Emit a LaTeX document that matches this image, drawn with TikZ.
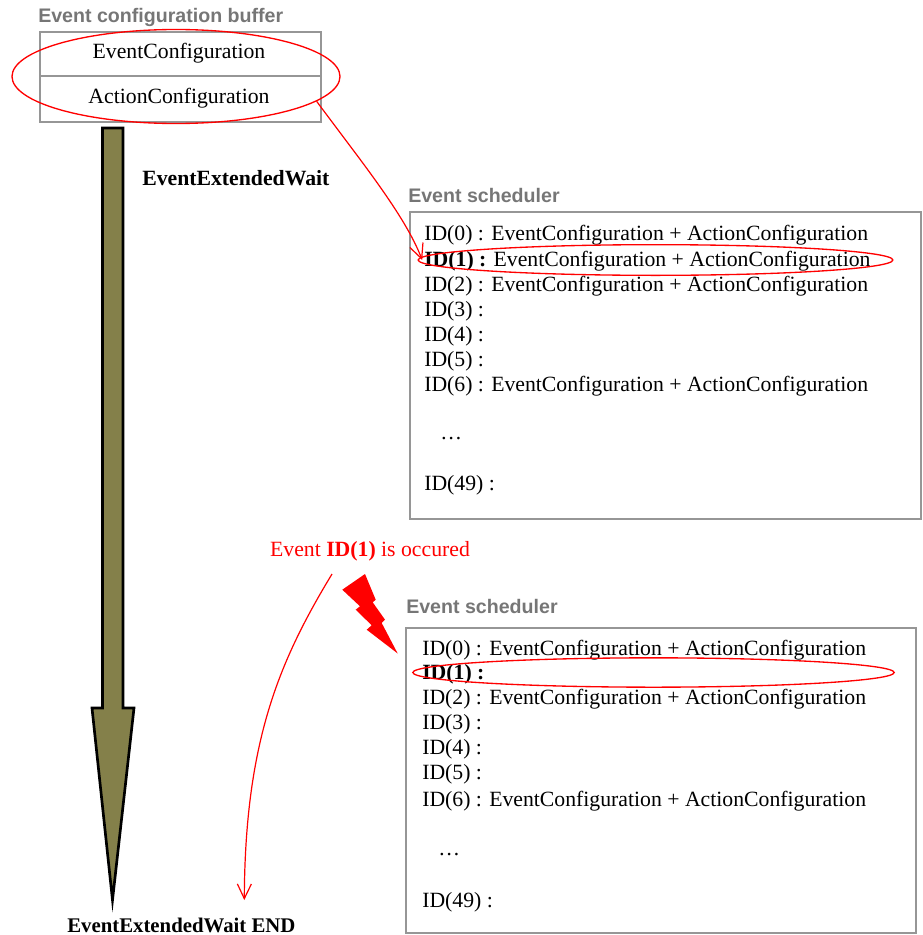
\documentclass[tikz,border=0pt]{standalone}
\usepackage{fontspec}
\setmainfont{Liberation Serif}
\setsansfont{Liberation Sans}
\usetikzlibrary{
  arrows.meta,      % Straight Barb
  calc,             % coordinate shifts
  shapes.geometric, % ellipse rings
  positioning       % relative placement
}

\definecolor{olivearrow}{RGB}{132,128,74}
\definecolor{framegray}{RGB}{150,150,150}
\definecolor{labelgray}{RGB}{118,118,118}

\tikzset{
  boxline/.style={draw=framegray, line width=1.1pt},
  bufftitle/.style={font=\sffamily\bfseries\fontsize{14.7}{17}\selectfont, text=labelgray, anchor=west, inner sep=0pt},
  rowtext/.style={font=\fontsize{16.3}{19}\selectfont, anchor=west, inner sep=0pt, yshift=-1.5pt},
  celltext/.style={font=\fontsize{16.3}{19}\selectfont, inner sep=0pt, yshift=-1.5pt},
  waittext/.style={font=\bfseries\fontsize{16.3}{19}\selectfont, anchor=west, inner sep=0pt},
  ring/.style={ellipse, draw=red, line width=1pt, inner sep=0pt},
  redline/.style={draw=red, line width=0.9pt},
  barb/.style={-{Straight Barb[length=11pt,width=10.5pt]}}
}

\begin{document}
\begin{tikzpicture}[x=0.75pt, y=-0.75pt]
  \useasboundingbox (0,0) rectangle (922,935);

  % buffer
  \node[bufftitle] (bufftitle) at (38,17) {Event configuration buffer};
  \draw[boxline] (40,32) rectangle (321,122);
  \draw[boxline] (40,76) -- (321,76);
  \node[celltext] (evcfg) at (179,51) {EventConfiguration};
  \node[celltext] (accfg) at (179,96) {ActionConfiguration};
  \node[ring, minimum width=246pt, minimum height=70.5pt] (cfgring) at (176,76.5) {};

  % wait arrow
  \draw[line width=2pt, fill=olivearrow, line join=miter]
    (102.5,128) -- (123,128) -- (123,708) -- (134,708) -- (112.5,900)
    -- (92,708) -- (102.5,708) -- cycle;
  \node[waittext] (waitlbl) at (142,178) {EventExtendedWait};
  \node[waittext, font=\bfseries\fontsize{15.6}{18}\selectfont] (waitend) at (67,925) {EventExtendedWait END};

  % first scheduler
  \node[bufftitle] (sched1title) at (408,195) {Event scheduler};
  \draw[boxline] (410,212) rectangle (921,519);
  \foreach \i/\y/\txt in {0/233/{ID(0) : EventConfiguration + ActionConfiguration},
                          2/284/{ID(2) : EventConfiguration + ActionConfiguration},
                          3/309/{ID(3) :}, 4/334/{ID(4) :}, 5/359/{ID(5) :},
                          6/384/{ID(6) : EventConfiguration + ActionConfiguration},
                          49/483/{ID(49) :}}
    \node[rowtext] (s1r\i) at (424,\y) {\txt};
  \node[rowtext] (s1r1) at (424,259) {\textbf{ID(1) :} EventConfiguration + ActionConfiguration};
  \node[rowtext] (s1dots) at (440,437) {…};
  \node[ring, minimum width=356pt, minimum height=23pt] (ring1) at (655.5,260) {};

  \draw[redline, barb] (cfgring.-10) .. controls (360,160) and (405,215) .. ([xshift=3.5pt]ring1.west);

  % event occurs
  \node[celltext, text=red] (occ) at (370,549) {Event \textbf{ID(1)} is occured};
  \fill[red] (342.3,589.7) -- (365,574) -- (375.7,599.7) -- (372.7,602.3) -- (385,619.7)
    -- (381.7,623) -- (397.7,653.5) -- (366.7,629.7) -- (371.7,625.3) -- (355.7,609.7)
    -- (360,606.3) -- cycle;
  \coordinate (hitstart) at (332,574);
  \coordinate (hitend) at (244.3,900);
  \draw[redline, barb] (hitstart) .. controls (280,660) and (245,740) .. (hitend);

  % second scheduler
  \node[bufftitle] (sched2title) at (406,606) {Event scheduler};
  \draw[boxline] (406,628) rectangle (916,933);
  \foreach \i/\y/\txt in {0/648/{ID(0) : EventConfiguration + ActionConfiguration},
                          2/697/{ID(2) : EventConfiguration + ActionConfiguration},
                          3/722/{ID(3) :}, 4/747/{ID(4) :}, 5/772/{ID(5) :},
                          6/799/{ID(6) : EventConfiguration + ActionConfiguration},
                          49/900/{ID(49) :}}
    \node[rowtext] (s2r\i) at (422,\y) {\txt};
  \node[rowtext] (s2r1) at (422,672) {\textbf{ID(1) :}};
  \node[rowtext] (s2dots) at (438,853) {…};
  \node[ring, minimum width=361pt, minimum height=22pt] (ring2) at (653.5,672.5) {};
\end{tikzpicture}
\end{document}
